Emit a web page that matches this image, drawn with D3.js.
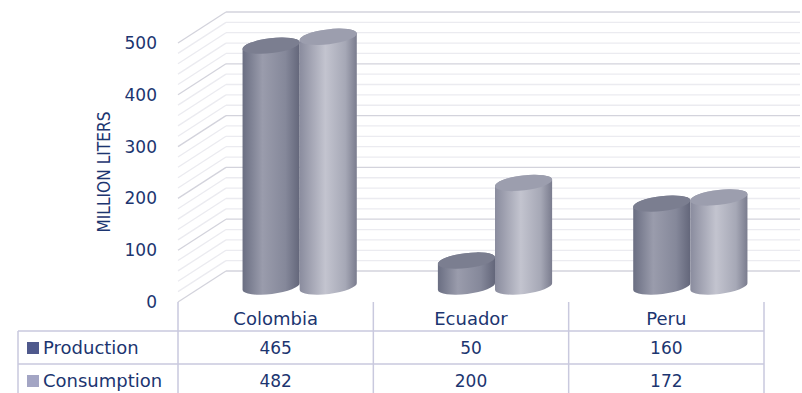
<!DOCTYPE html>
<html>
<head>
<meta charset="utf-8">
<script src="https://cdn.jsdelivr.net/npm/d3@7"></script>
<style>
body { margin: 0; background: #fff; }
svg { display: block; font-family: "DejaVu Sans", sans-serif; }
.lbl { fill: #1c3570; font-size: 17px; }
.word { font-size: 18px; }
.tick text { fill: #1c3570; font-size: 17px; font-family: "DejaVu Sans", sans-serif; }
</style>
</head>
<body>
<div id="chart"></div>
<script>
// data
var countries = ["Colombia", "Ecuador", "Peru"];
var seriesNames = ["Production", "Consumption"];
var production = [465, 50, 160];
var consumption = [482, 200, 172];
var yTicks = [0, 100, 200, 300, 400, 500];

var W = 802, H = 393;
var svg = d3.select("#chart").append("svg").attr("width", W).attr("height", H);
var defs = svg.append("defs");

// 3d depth offset of the floor/back wall
var depthX = 48, depthY = -31;
var tableLeft = 18, plotLeft = 178, plotRight = 764;

var yFront = d3.scaleLinear().domain([0, 500]).range([302, 43]);
var yBack = function(v){ return yFront(v) + depthY; };
var yMid = function(v){ return yFront(v) + depthY/2; };

var x0 = d3.scaleBand().domain(countries).range([plotLeft, plotRight]);
var x1 = d3.scaleBand().domain(seriesNames).range([0, x0.bandwidth()]).paddingInner(0).paddingOuter(0.71);

// gridlines (side wall + back wall)
var grid = svg.append("g");
d3.range(0, 501, 20).forEach(function(v){
	var major = v % 100 == 0;
	var col = major ? "#d3d3dc" : "#ebebf0";
	grid.append("line")
		.attr("x1", plotLeft).attr("y1", yFront(v))
		.attr("x2", plotLeft + depthX).attr("y2", yBack(v))
		.attr("stroke", col).attr("stroke-width", 1.3);
	grid.append("line")
		.attr("x1", plotLeft + depthX).attr("y1", yBack(v))
		.attr("x2", 800).attr("y2", yBack(v))
		.attr("stroke", col).attr("stroke-width", 1.3);
});

// y axis
var yAxis = d3.axisLeft(yFront).tickValues(yTicks).tickSize(0).tickPadding(0);
var ag = svg.append("g").attr("transform", "translate(157,0)").call(yAxis);
ag.select(".domain").remove();

svg.append("text").attr("class", "lbl")
	.attr("transform", "translate(110,172) rotate(-90)")
	.attr("text-anchor", "middle")
	.attr("textLength", 121).attr("lengthAdjust", "spacingAndGlyphs")
	.style("font-size", "18px")
	.text("MILLION LITERS");

// gradients for cylinders
var gradStops = {
	"Production": [["0%", "#6a6e82"], ["35%", "#9a9cac"], ["75%", "#85889a"], ["100%", "#63667a"]],
	"Consumption": [["0%", "#8a8c9e"], ["45%", "#c3c4cf"], ["80%", "#a6a8b6"], ["100%", "#7a7c8e"]]
};
var topColor = { "Production": "#7b7e90", "Consumption": "#9c9eae" };
seriesNames.forEach(function(s, i){
	var g = defs.append("linearGradient").attr("id", "grad" + i)
		.attr("x1", "0%").attr("x2", "100%").attr("y1", "0%").attr("y2", "0%");
	gradStops[s].forEach(function(st){
		g.append("stop").attr("offset", st[0]).attr("stop-color", st[1]);
	});
});

// cylinders
var tilt = -7, th = tilt * Math.PI / 180, ry = 7.5;
var values = [production, consumption];
var bars = svg.append("g");
countries.forEach(function(c, ci){
	seriesNames.forEach(function(s, si){
		var v = values[si][ci];
		var w = x1.bandwidth();
		var cx = x0(c) + x1(s) + w/2 + depthX/2;
		var rx = (w/2) / Math.cos(th);
		var dx = rx * Math.cos(th), dyy = rx * Math.sin(th);
		var yt = yMid(v), yb = yMid(0);
		var p = "M" + (cx-dx) + "," + (yt-dyy) +
			"L" + (cx-dx) + "," + (yb-dyy) +
			"A" + rx + "," + ry + " " + tilt + " 0 0 " + (cx+dx) + "," + (yb+dyy) +
			"L" + (cx+dx) + "," + (yt+dyy) +
			"A" + rx + "," + ry + " " + tilt + " 0 0 " + (cx-dx) + "," + (yt-dyy) + "Z";
		bars.append("path").attr("d", p).attr("fill", "url(#grad" + si + ")");
		bars.append("ellipse")
			.attr("cx", cx).attr("cy", yt).attr("rx", rx).attr("ry", ry)
			.attr("transform", "rotate(" + tilt + "," + cx + "," + yt + ")")
			.attr("fill", topColor[s]);
	});
});

// data table
var tcol = "#c9c9de";
var rowTop = 331, rowMid = 364;
var tbl = svg.append("g");
[plotLeft].concat(countries.map(function(c){ return x0(c) + x0.bandwidth(); })).forEach(function(x){
	tbl.append("line").attr("x1", x).attr("x2", x).attr("y1", 302).attr("y2", H)
		.attr("stroke", tcol).attr("stroke-width", 1.5);
});
tbl.append("line").attr("x1", tableLeft).attr("x2", tableLeft).attr("y1", rowTop).attr("y2", H)
	.attr("stroke", tcol).attr("stroke-width", 1.5);
[rowTop, rowMid].forEach(function(y){
	tbl.append("line").attr("x1", tableLeft).attr("x2", plotRight).attr("y1", y).attr("y2", y)
		.attr("stroke", tcol).attr("stroke-width", 1.5);
});

countries.forEach(function(c){
	tbl.append("text").attr("class", "lbl word").attr("x", x0(c) + x0.bandwidth()/2).attr("y", 319)
		.attr("text-anchor", "middle").attr("dy", "0.35em").text(c);
});

var keyColor = ["#4f598c", "#a3a5c4"];
var rowY = [348, 381];
seriesNames.forEach(function(s, si){
	tbl.append("rect").attr("x", 27).attr("y", rowY[si] - 6).attr("width", 12).attr("height", 12)
		.attr("fill", keyColor[si]);
	tbl.append("text").attr("class", "lbl word").attr("x", 43).attr("y", rowY[si]).attr("dy", "0.35em").text(s);
	countries.forEach(function(c, ci){
		tbl.append("text").attr("class", "lbl").attr("x", x0(c) + x0.bandwidth()/2).attr("y", rowY[si])
			.attr("text-anchor", "middle").attr("dy", "0.35em").text(values[si][ci]);
	});
});
</script>
</body>
</html>
